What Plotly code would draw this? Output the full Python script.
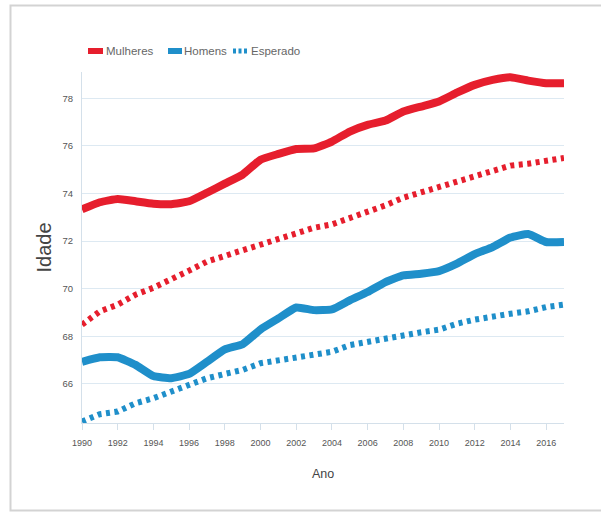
import plotly.graph_objects as go

# Life expectancy at birth (years)
anos = list(range(1990, 2018))
mulheres = [73.33, 73.63, 73.77, 73.67, 73.57, 73.55, 73.67, 74.03, 74.41, 74.79,
            75.42, 75.66, 75.87, 75.89, 76.18, 76.60, 76.88, 77.06, 77.44, 77.65,
            77.86, 78.23, 78.56, 78.77, 78.88, 78.74, 78.63, 78.63]
homens = [66.93, 67.12, 67.12, 66.80, 66.33, 66.24, 66.42, 66.93, 67.45, 67.67,
          68.29, 68.75, 69.21, 69.10, 69.13, 69.51, 69.86, 70.28, 70.56, 70.63,
          70.74, 71.05, 71.45, 71.75, 72.15, 72.30, 71.96, 71.96]
esperado_mulheres = [68.49, 69.05, 69.33, 69.75, 70.04, 70.37, 70.76, 71.14, 71.38, 71.63,
                     71.86, 72.10, 72.35, 72.56, 72.70, 72.95, 73.19, 73.50, 73.82, 74.05,
                     74.24, 74.50, 74.72, 74.95, 75.17, 75.25, 75.35, 75.49]
esperado_homens = [64.42, 64.73, 64.84, 65.19, 65.40, 65.68, 65.96, 66.24, 66.42, 66.59,
                   66.87, 67.00, 67.12, 67.21, 67.35, 67.63, 67.77, 67.92, 68.07, 68.17,
                   68.28, 68.53, 68.70, 68.84, 68.95, 69.05, 69.23, 69.33]

y_ticks = [66, 68, 70, 72, 74, 76, 78]
x_ticks = list(range(1990, 2017, 2))

VERMELHO = "#e61e2d"
AZUL = "#1f8fca"
FONT = "Liberation Sans, Arial, sans-serif"
DOT = "4px,4.5px"

W, H = 601, 513
L, R, T, B = 82, 37, 72, 90
PW, PH = W - L - R, H - T - B


def px(x):
    return (x - L) / PW


def py(y):
    return (H - B - y) / PH


fig = go.Figure()
fig.add_trace(go.Scatter(x=anos, y=esperado_mulheres, mode="lines", name="Esperado",
                         line=dict(color=VERMELHO, width=6, dash=DOT), showlegend=False))
fig.add_trace(go.Scatter(x=anos, y=esperado_homens, mode="lines", name="Esperado",
                         line=dict(color=AZUL, width=6, dash=DOT), showlegend=False))
fig.add_trace(go.Scatter(x=anos, y=mulheres, mode="lines", name="Mulheres",
                         line=dict(color=VERMELHO, width=8, shape="spline", smoothing=0.4),
                         showlegend=False))
fig.add_trace(go.Scatter(x=anos, y=homens, mode="lines", name="Homens",
                         line=dict(color=AZUL, width=8, shape="spline", smoothing=0.4),
                         showlegend=False))

# Legend drawn as short line swatches plus labels
shapes = []
annotations = []
legend_items = [
    ("Mulheres", VERMELHO, None, 88, 103, 104),
    ("Homens", AZUL, None, 168, 182, 182),
    ("Esperado", AZUL, "3px,2.5px", 233, 248, 249),
]
ly = 51
for label, cor, dash, x0, x1, xt in legend_items:
    shapes.append(dict(type="line", xref="paper", yref="paper",
                       x0=px(x0), x1=px(x1), y0=py(ly), y1=py(ly),
                       line=dict(color=cor, width=6 if dash is None else 5,
                                 dash=dash if dash else "solid")))
    annotations.append(dict(text=label, xref="paper", yref="paper",
                            x=px(xt), y=py(ly), xanchor="left", yanchor="middle",
                            showarrow=False,
                            font=dict(family=FONT, size=11.5, color="#666666")))

# Outer frame
shapes.append(dict(type="rect", xref="paper", yref="paper", layer="below",
                   x0=px(10.5), x1=px(640), y0=py(510.5), y1=py(5.5),
                   line=dict(color="#d3d3d3", width=2), fillcolor="rgba(0,0,0,0)"))

fig.update_layout(
    width=W, height=H,
    margin=dict(l=L, r=R, t=T, b=B, pad=0),
    paper_bgcolor="white", plot_bgcolor="white",
    shapes=shapes, annotations=annotations,
    xaxis=dict(range=[1990, 2017], tickvals=x_ticks, ticktext=[str(v) for v in x_ticks],
               showgrid=False, zeroline=False, showline=True, linecolor="#d4e0ea",
               linewidth=1, ticks="outside", ticklen=6, tickcolor="#d4e0ea",
               ticklabelstandoff=5,
               tickfont=dict(family=FONT, size=9, color="#555555"),
               title=dict(text="Ano", standoff=22,
                          font=dict(family=FONT, size=12.5, color="#444444"))),
    yaxis=dict(range=[64.36, 79.1], tickvals=y_ticks, ticktext=[str(v) for v in y_ticks],
               showgrid=True, gridcolor="#dde9f2", gridwidth=1, zeroline=False,
               showline=True, linecolor="#d4e0ea", linewidth=1, ticks="",
               ticklabelstandoff=6,
               tickfont=dict(family=FONT, size=9.5, color="#555555"),
               title=dict(text="Idade", standoff=5,
                          font=dict(family=FONT, size=20, color="#444444"))),
)

fig.write_html("out.html")
